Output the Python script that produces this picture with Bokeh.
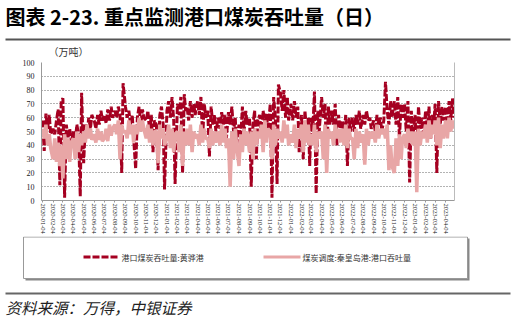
import math
from datetime import datetime
from bokeh.plotting import figure
from bokeh.layouts import column
from bokeh.models import (ColumnDataSource, FixedTicker, DatetimeTickFormatter,
                          LinearAxis, Range1d)
from bokeh.core.properties import value
from bokeh.embed import file_html
from bokeh.resources import INLINE

W, H = 515, 320

# ---- data ----
year_months = [(2020 + i // 12, i % 12 + 1) for i in range(40)]   # 2020-01 .. 2023-04
sample_days = [4, 9, 14, 19, 24, 28]

# 港口煤炭吞吐量:黄骅港 (万吨)
huanghua = [
    58, 36, 63, 52, 62, 48,   # 2020-01
    52, 48, 58, 66, 11, 72,   # 2020-02
    74, 2, 55, 45, 52, 42,    # 2020-03
    50, 42, 55, 48, 3, 78,    # 2020-04
    27, 55, 48, 60, 52, 62,   # 2020-05
    58, 52, 62, 55, 65, 58,   # 2020-06
    62, 56, 66, 58, 68, 60,   # 2020-07
    65, 60, 68, 62, 20, 85,   # 2020-08
    68, 60, 65, 55, 62, 45,   # 2020-09
    23, 60, 68, 55, 66, 60,   # 2020-10
    58, 65, 50, 62, 35, 58,   # 2020-11
    55, 22, 62, 68, 55, 8,    # 2020-12
    65, 72, 60, 75, 58, 12,   # 2021-01
    70, 62, 75, 20, 77, 65,   # 2021-02
    68, 58, 72, 60, 70, 62,   # 2021-03
    72, 62, 75, 45, 70, 60,   # 2021-04
    65, 32, 68, 55, 62, 50,   # 2021-05
    60, 52, 64, 55, 62, 45,   # 2021-06
    64, 55, 68, 50, 60, 40,   # 2021-07
    55, 45, 68, 50, 65, 55,   # 2021-08
    60, 10, 55, 65, 30, 58,   # 2021-09
    62, 45, 65, 55, 63, 50,   # 2021-10
    70, 2, 75, 60, 12, 84,    # 2021-11
    78, 65, 80, 60, 75, 58,   # 2021-12
    70, 58, 72, 60, 68, 35,   # 2022-01
    62, 30, 65, 50, 60, 25,   # 2022-02
    60, 50, 79, 5, 65, 50,    # 2022-03
    75, 60, 70, 30, 68, 55,   # 2022-04
    65, 55, 70, 40, 62, 52,   # 2022-05
    58, 48, 62, 25, 60, 50,   # 2022-06
    60, 50, 62, 55, 65, 52,   # 2022-07
    62, 55, 65, 58, 60, 52,   # 2022-08
    58, 50, 62, 55, 60, 50,   # 2022-09
    58, 86, 65, 55, 72, 60,   # 2022-10
    72, 55, 75, 45, 70, 60,   # 2022-11
    70, 50, 72, 13, 65, 45,   # 2022-12
    62, 30, 68, 52, 60, 45,   # 2023-01
    65, 50, 68, 45, 62, 55,   # 2023-02
    70, 20, 72, 55, 68, 58,   # 2023-03
    68, 52, 72, 58, 74, 60,   # 2023-04
]

# 煤炭调度:秦皇岛港:港口吞吐量 (万吨)
qinhuangdao = [
    52, 45, 55, 40, 48, 38,   # 2020-01
    30, 45, 28, 42, 25, 40,   # 2020-02
    16, 48, 30, 45, 28, 42,   # 2020-03
    45, 30, 50, 35, 48, 40,   # 2020-04
    50, 42, 55, 45, 52, 44,   # 2020-05
    48, 42, 52, 44, 50, 43,   # 2020-06
    45, 52, 43, 55, 47, 52,   # 2020-07
    55, 48, 58, 30, 55, 50,   # 2020-08
    50, 45, 58, 48, 55, 42,   # 2020-09
    55, 48, 60, 50, 58, 52,   # 2020-10
    45, 55, 42, 52, 40, 50,   # 2020-11
    50, 27, 55, 45, 52, 40,   # 2020-12
    45, 55, 38, 52, 35, 48,   # 2021-01
    50, 35, 55, 25, 50, 40,   # 2021-02
    52, 40, 55, 35, 50, 45,   # 2021-03
    48, 40, 55, 42, 52, 45,   # 2021-04
    45, 38, 52, 40, 50, 42,   # 2021-05
    50, 40, 55, 42, 52, 38,   # 2021-06
    45, 10, 50, 30, 52, 40,   # 2021-07
    25, 48, 35, 52, 40, 50,   # 2021-08
    35, 50, 30, 52, 40, 50,   # 2021-09
    45, 55, 35, 58, 42, 52,   # 2021-10
    50, 30, 55, 40, 52, 45,   # 2021-11
    50, 42, 58, 45, 55, 40,   # 2021-12
    48, 42, 55, 38, 52, 45,   # 2022-01
    55, 35, 58, 42, 55, 40,   # 2022-02
    48, 40, 55, 35, 50, 45,   # 2022-03
    50, 30, 55, 20, 52, 45,   # 2022-04
    50, 40, 55, 45, 52, 42,   # 2022-05
    52, 40, 55, 38, 52, 45,   # 2022-06
    45, 30, 52, 38, 50, 42,   # 2022-07
    48, 26, 52, 40, 50, 45,   # 2022-08
    50, 42, 55, 45, 52, 48,   # 2022-09
    52, 45, 55, 22, 40, 25,   # 2022-10
    20, 45, 25, 48, 30, 45,   # 2022-11
    48, 38, 52, 42, 50, 40,   # 2022-12
    50, 6, 52, 40, 50, 45,    # 2023-01
    55, 42, 58, 45, 55, 48,   # 2023-02
    58, 40, 60, 38, 55, 45,   # 2023-03
    58, 45, 60, 50, 58, 52,   # 2023-04
]

y_ticks = [0, 10, 20, 30, 40, 50, 60, 70, 80, 90, 100]

series_names = ["港口煤炭吞吐量:黄骅港", "煤炭调度:秦皇岛港:港口吞吐量"]
title_text = "图表 2-23. 重点监测港口煤炭吞吐量（日）"
unit_text = "（万吨）"
source_text = "资料来源：万得，中银证券"

# ---- styles ----
CJK = "Noto Sans CJK SC"
SERIF = "Liberation Serif"
RED = "#A50021"
PINK = "#E8A6A6"

HEAD_H, MAIN_H = 58, 178          # header / chart / footer heights (sum = 320)
FOOT_H = H - HEAD_H - MAIN_H


def panel_fig(h):
    f = figure(width=W, height=h, x_range=Range1d(0, W), y_range=Range1d(h, 0),
               output_backend="svg", toolbar_location=None, title=None,
               x_axis_location=None, y_axis_location=None, frame_align=False,
               min_border=0, min_border_left=0, min_border_right=0,
               min_border_top=0, min_border_bottom=0)
    f.outline_line_color = None
    f.xgrid.visible = False
    f.ygrid.visible = False
    f.background_fill_color = "white"
    f.border_fill_color = "white"
    return f


# ---- header: title, rule, unit ----
head = panel_fig(HEAD_H)
head.text(x=[5], y=[16], text=[title_text], text_font=value(CJK), text_font_size="20px",
          text_font_style="bold", text_color="#000000", text_baseline="middle")
head.quad(left=[5], right=[510], top=[38], bottom=[40], fill_color="#555555", line_color=None)
head.text(x=[48], y=[51], text=[unit_text], text_font=value(CJK), text_font_size="10px",
          text_color="#333333", text_baseline="middle")

# ---- main chart ----
dates = [datetime(y, m, d) for (y, m) in year_months for d in sample_days]
tick_dates = [datetime(y, m, 4) for (y, m) in year_months]
epoch = datetime(1970, 1, 1)
tick_ms = [(d - epoch).total_seconds() * 1000 for d in tick_dates]

src = ColumnDataSource(dict(date=dates, hh=huanghua, qhd=qinhuangdao))

p = figure(width=W, height=MAIN_H, x_axis_type="datetime",
           x_range=Range1d(datetime(2020, 1, 1), datetime(2023, 4, 30)),
           y_range=Range1d(0, 100), title=None, frame_align=False,
           output_backend="svg", toolbar_location=None,
           min_border_left=41, min_border_right=61, min_border_top=4, min_border_bottom=36)
p.outline_line_color = None
p.background_fill_color = "white"
p.border_fill_color = "white"

p.xaxis.ticker = FixedTicker(ticks=tick_ms)
fmt = "%Y-%m-%d"
p.xaxis.formatter = DatetimeTickFormatter(milliseconds=fmt, seconds=fmt, minsec=fmt, minutes=fmt,
                                          hourmin=fmt, hours=fmt, days=fmt, months=fmt, years=fmt)
p.xaxis.major_label_orientation = -math.pi / 2
p.xaxis.major_label_text_font = SERIF
p.xaxis.major_label_text_font_size = "6.5px"
p.xaxis.major_label_text_color = "#222222"
p.xaxis.major_label_standoff = 1
p.xaxis.major_tick_out = 2
p.xaxis.major_tick_in = 0
p.xaxis.minor_tick_out = 0
p.xaxis.minor_tick_in = 0
p.xaxis.axis_line_color = "#999999"
p.xaxis.major_tick_line_color = "#999999"

p.yaxis.ticker = FixedTicker(ticks=y_ticks)
p.yaxis.major_label_text_font = SERIF
p.yaxis.major_label_text_font_size = "8px"
p.yaxis.major_label_text_color = "#222222"
p.yaxis.major_label_standoff = 7
p.yaxis.major_tick_out = 0
p.yaxis.major_tick_in = 0
p.yaxis.minor_tick_out = 0
p.yaxis.minor_tick_in = 0
p.yaxis.axis_line_color = "#999999"

right_axis = LinearAxis(major_label_text_font_size="0px", major_tick_out=0, major_tick_in=0,
                        minor_tick_out=0, minor_tick_in=0, axis_line_color="#bbbbbb",
                        ticker=FixedTicker(ticks=[]))
p.add_layout(right_axis, "right")

p.xgrid.visible = False
p.ygrid.grid_line_color = "#666666"
p.ygrid.grid_line_dash = "1 2"
p.ygrid.grid_line_width = 1

p.line("date", "hh", source=src, line_color=RED, line_width=3, line_dash="7 2")
p.line("date", "qhd", source=src, line_color=PINK, line_width=3.5)

# ---- footer: legend box, legend keys, source ----
foot = panel_fig(FOOT_H)
foot.quad(left=[25], right=[469], top=[2], bottom=[44], fill_color="#888888", line_color=None)
foot.quad(left=[23], right=[467], top=[0.5], bottom=[42], fill_color="white",
          line_color="#999999", line_width=1)
foot.segment(x0=[83], y0=[20.5], x1=[118], y1=[20.5], line_color=RED, line_width=3, line_dash="7 2")
foot.segment(x0=[263], y0=[20.5], x1=[300], y1=[20.5], line_color=PINK, line_width=3)
foot.text(x=[121, 302], y=[20.5, 20.5], text=series_names, text_font=value(CJK),
          text_font_size="8px", text_color="#333333", text_baseline="middle")
foot.quad(left=[5], right=[510], top=[56], bottom=[58], fill_color="#666666", line_color=None)
foot.text(x=[5], y=[70], text=[source_text], text_font=value(CJK), text_font_size="15.5px",
          text_font_style="italic", text_color="#222222", text_baseline="middle")

layout = column(head, p, foot, spacing=0)
open("out.html", "w").write(file_html(layout, INLINE))
